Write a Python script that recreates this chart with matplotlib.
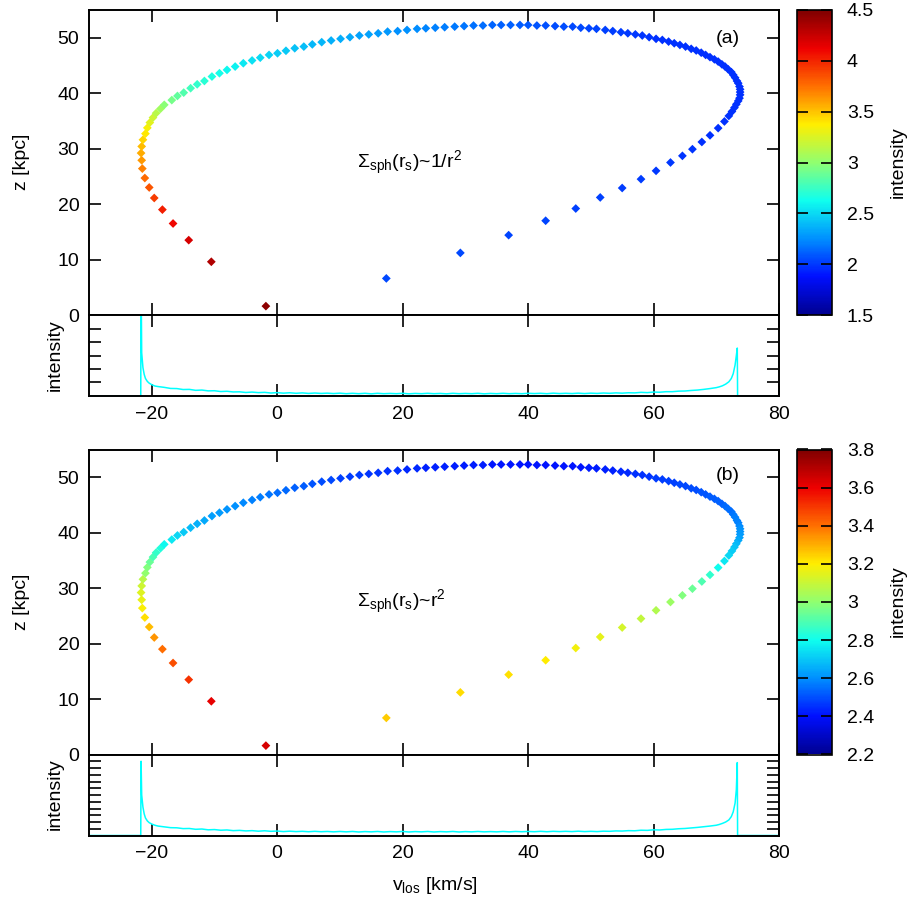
import matplotlib
matplotlib.use('Agg')
import matplotlib.pyplot as plt
from matplotlib.colors import LinearSegmentedColormap
from matplotlib.ticker import FuncFormatter

plt.rcParams['font.family'] = ['Liberation Sans', 'DejaVu Sans']
plt.rcParams['mathtext.fontset'] = 'custom'
plt.rcParams['mathtext.rm'] = 'Liberation Sans'
plt.rcParams['mathtext.it'] = 'Liberation Sans'
plt.rcParams['mathtext.bf'] = 'Liberation Sans:bold'

# ---------------- data ----------------
v_los = [-1.8, -10.5, -14.1, -16.6, -18.3, -19.6, -20.4, -21.1, -21.5, -21.6,
         -21.7, -21.6, -21.4, -21.0, -20.7, -20.3, -19.8, -19.3, -18.6, -18.0,
         -16.8, -15.9, -14.9, -13.8, -12.75, -11.6, -10.4, -9.2, -8.0, -6.7,
         -5.4, -4.0, -2.7, -1.3, 0.05, 1.4, 2.8, 4.25, 5.6, 7.1,
         8.6, 10.1, 11.6, 13.1, 14.6, 16.1, 17.6, 19.2, 20.7, 22.3,
         23.7, 25.2, 26.7, 28.3, 29.8, 31.3, 32.8, 34.3, 35.7, 37.2,
         38.7, 40.0, 41.4, 42.8, 44.3, 45.7, 47.1, 48.4, 49.7, 50.9,
         52.3, 53.5, 54.8, 55.9, 57.1, 58.2, 59.3, 60.4, 61.4, 62.4,
         63.3, 64.2, 65.1, 66.0, 66.8, 67.6, 68.3, 69.0, 69.7, 70.3,
         70.9, 71.4, 71.9, 72.4, 72.7, 73.0, 73.3, 73.5, 73.7, 73.8,
         73.8, 73.8, 73.7, 73.5, 73.2, 72.9, 72.5, 72.0, 71.3, 70.3,
         69.0, 67.7, 66.2, 64.6, 62.7, 60.4, 58.0, 55.0, 51.5, 47.6,
         42.8, 36.9, 29.2, 17.4]
z_kpc = [1.6, 9.6, 13.5, 16.5, 19.0, 21.1, 23.0, 24.7, 26.4, 27.9,
         29.2, 30.4, 31.6, 32.7, 33.75, 34.7, 35.6, 36.4, 37.2, 37.9,
         38.75, 39.5, 40.1, 40.9, 41.6, 42.2, 43.0, 43.6, 44.2, 44.8,
         45.4, 45.9, 46.4, 46.9, 47.2, 47.65, 48.1, 48.4, 48.8, 49.2,
         49.5, 49.8, 50.1, 50.4, 50.6, 50.8, 51.1, 51.2, 51.4, 51.6,
         51.7, 51.8, 51.9, 52.0, 52.1, 52.2, 52.2, 52.3, 52.3, 52.3,
         52.3, 52.3, 52.2, 52.2, 52.1, 52.0, 52.0, 51.8, 51.7, 51.6,
         51.4, 51.2, 51.0, 50.8, 50.6, 50.4, 50.1, 49.8, 49.6, 49.3,
         49.0, 48.7, 48.4, 48.0, 47.7, 47.3, 46.9, 46.5, 46.1, 45.7,
         45.2, 44.8, 44.3, 43.8, 43.3, 42.8, 42.2, 41.8, 41.2, 40.7,
         40.2, 39.7, 39.1, 38.6, 38.0, 37.4, 36.7, 35.9, 34.9, 33.7,
         32.4, 31.2, 29.9, 28.7, 27.5, 26.0, 24.5, 22.9, 21.2, 19.2,
         17.0, 14.4, 11.2, 6.6]

intensity_a = [4.45, 4.33, 4.20, 4.10, 4.03, 3.92, 3.84, 3.77, 3.70, 3.63,
               3.57, 3.52, 3.45, 3.39, 3.34, 3.27, 3.21, 3.13, 3.05, 2.98,
               2.92, 2.87, 2.82, 2.77, 2.73, 2.70, 2.67, 2.64, 2.61, 2.58,
               2.55, 2.53, 2.50, 2.48, 2.46, 2.44, 2.42, 2.41, 2.39, 2.38,
               2.36, 2.35, 2.34, 2.32, 2.31, 2.29, 2.28, 2.26, 2.25, 2.24,
               2.22, 2.21, 2.20, 2.18, 2.17, 2.16, 2.15, 2.13, 2.12, 2.11,
               2.10, 2.09, 2.08, 2.07, 2.06, 2.06, 2.05, 2.04, 2.03, 2.03,
               2.02, 2.01, 2.01, 2.00, 2.00, 1.99, 1.99, 1.98, 1.98, 1.97,
               1.97, 1.97, 1.97, 1.97, 1.97, 1.97, 1.97, 1.97, 1.97, 1.97,
               1.97, 1.97, 1.97, 1.97, 1.97, 1.97, 1.97, 1.97, 1.97, 1.97,
               1.97, 1.97, 1.97, 1.97, 1.97, 1.97, 1.97, 1.97, 1.97, 1.97,
               1.98, 1.98, 1.99, 1.99, 2.00, 2.00, 2.01, 2.01, 2.02, 2.02,
               2.03, 2.03, 2.04, 2.05]
intensity_b = [3.64, 3.61, 3.51, 3.46, 3.40, 3.34, 3.28, 3.22, 3.19, 3.16,
               3.14, 3.11, 3.07, 3.00, 2.98, 2.94, 2.89, 2.86, 2.83, 2.79,
               2.76, 2.73, 2.70, 2.68, 2.66, 2.65, 2.63, 2.62, 2.61, 2.60,
               2.59, 2.58, 2.57, 2.56, 2.55, 2.54, 2.53, 2.52, 2.51, 2.50,
               2.49, 2.48, 2.47, 2.47, 2.46, 2.46, 2.45, 2.45, 2.44, 2.44,
               2.43, 2.43, 2.43, 2.42, 2.42, 2.42, 2.42, 2.41, 2.41, 2.41,
               2.41, 2.41, 2.41, 2.41, 2.41, 2.41, 2.41, 2.41, 2.42, 2.42,
               2.43, 2.43, 2.44, 2.44, 2.45, 2.45, 2.46, 2.47, 2.47, 2.48,
               2.48, 2.49, 2.49, 2.50, 2.50, 2.51, 2.51, 2.52, 2.52, 2.53,
               2.53, 2.54, 2.55, 2.55, 2.56, 2.57, 2.58, 2.58, 2.59, 2.60,
               2.61, 2.62, 2.63, 2.65, 2.67, 2.69, 2.71, 2.73, 2.76, 2.80,
               2.85, 2.90, 2.94, 2.98, 3.02, 3.06, 3.09, 3.12, 3.15, 3.18,
               3.20, 3.22, 3.23, 3.25]

# line-of-sight velocity profile (lower panels)
v_hist = [-30.0, -21.75, -21.7, -21.6, -21.4, -21.2, -21.0, -20.7, -20.4, -20.0, -19.5, -19.0,
          -18.0, -17.0, -16.0, -15.0, -14.0, -13.0, -12.0, -11.0, -10.0, -9.0,
          -8.0, -7.0, -6.0, -5.0, -4.0, -3.0, -2.0, -1.0, 0.0,
          1.0, 2.0, 3.0, 4.0, 5.0, 6.0, 7.0, 8.0, 9.0, 10.0,
          11.0, 12.0, 13.0, 14.0, 15.0, 16.0, 17.0, 18.0, 19.0, 20.0,
          21.0, 22.0, 23.0, 24.0, 25.0, 26.0, 27.0, 28.0, 29.0, 30.0,
          31.0, 32.0, 33.0, 34.0, 35.0, 36.0, 37.0, 38.0, 39.0, 40.0,
          41.0, 42.0, 43.0, 44.0, 45.0, 46.0, 47.0, 48.0, 49.0,
          50.0, 51.0, 52.0, 53.0, 54.0, 55.0, 56.0, 57.0, 58.0, 59.0, 60.0,
          61.0, 62.0, 63.0, 64.0, 65.0, 66.0, 67.0, 68.0, 69.0, 70.0,
          70.5, 71.0, 71.5, 72.0, 72.4, 72.7, 73.0, 73.2, 73.35, 73.4, 80.0]
hist_a = [0.0, 0.0, 9.0, 3.2, 2.1, 1.6, 1.3, 1.08, 0.95, 0.84, 0.74, 0.70,
          0.64, 0.56, 0.55, 0.48, 0.49, 0.42, 0.44, 0.38, 0.39, 0.33,
          0.35, 0.30, 0.31, 0.26, 0.29, 0.25, 0.27, 0.22, 0.25,
          0.21, 0.24, 0.20, 0.23, 0.19, 0.22, 0.19, 0.21, 0.18, 0.21,
          0.17, 0.20, 0.17, 0.20, 0.16, 0.20, 0.17, 0.19, 0.17, 0.20,
          0.16, 0.19, 0.17, 0.20, 0.17, 0.19, 0.16, 0.20, 0.17, 0.19,
          0.17, 0.20, 0.16, 0.19, 0.17, 0.20, 0.17, 0.19, 0.17, 0.20,
          0.18, 0.20, 0.17, 0.21, 0.18, 0.20, 0.18, 0.21, 0.18,
          0.21, 0.19, 0.22, 0.20, 0.23, 0.21, 0.24, 0.23, 0.27, 0.25, 0.29,
          0.28, 0.32, 0.32, 0.36, 0.37, 0.41, 0.44, 0.49, 0.55, 0.62,
          0.68, 0.76, 0.88, 1.05, 1.30, 1.65, 2.30, 3.00, 3.55, 0.0, 0.0]
hist_b = [0.0, 0.0, 5.5, 3.0, 2.1, 1.6, 1.3, 1.08, 0.95, 0.85, 0.76, 0.70,
          0.64, 0.58, 0.57, 0.51, 0.52, 0.46, 0.48, 0.42, 0.44, 0.39,
          0.41, 0.36, 0.38, 0.34, 0.36, 0.32, 0.35, 0.31, 0.33,
          0.29, 0.32, 0.29, 0.31, 0.28, 0.31, 0.28, 0.30, 0.27, 0.30,
          0.27, 0.30, 0.26, 0.29, 0.27, 0.30, 0.26, 0.29, 0.27, 0.30,
          0.26, 0.29, 0.27, 0.30, 0.26, 0.29, 0.27, 0.30, 0.26, 0.29,
          0.27, 0.30, 0.27, 0.29, 0.27, 0.30, 0.27, 0.30, 0.28, 0.30,
          0.28, 0.31, 0.28, 0.31, 0.29, 0.31, 0.29, 0.32, 0.29,
          0.31, 0.29, 0.32, 0.31, 0.34, 0.33, 0.36, 0.35, 0.39, 0.38, 0.42,
          0.41, 0.45, 0.46, 0.50, 0.52, 0.56, 0.60, 0.65, 0.70, 0.76,
          0.82, 0.90, 1.00, 1.15, 1.40, 1.75, 2.40, 3.40, 5.40, 0.0, 0.0]

cb_ticks_a = [1.5, 2.0, 2.5, 3.0, 3.5, 4.0, 4.5]
cb_ticks_b = [2.2, 2.4, 2.6, 2.8, 3.0, 3.2, 3.4, 3.6, 3.8]
x_ticks = [-20, 0, 20, 40, 60, 80]
z_ticks = [0, 10, 20, 30, 40, 50]

# gnuplot-style jet palette
jet_g = LinearSegmentedColormap.from_list(
    'jet_g', ['#000090', '#000fff', '#0090ff', '#0fffee', '#90ff70',
              '#ffee00', '#ff7000', '#ee0000', '#7f0000'])

W, H = 909.0, 900.0
FS = 14
fig = plt.figure(figsize=(W / 100, H / 100), dpi=100)


def rect(x0, y0, x1, y1):
    return [x0 / W, 1 - y1 / H, (x1 - x0) / W, (y1 - y0) / H]


def gfmt(v, pos):
    return '%g' % round(v, 3)


def panel(top, intens, vmin, vmax, cticks, hvals, hstep, letter, label):
    bot = top + 305.0
    hbot = bot + 81.0
    ax = fig.add_axes(rect(89, top, 779, bot))
    axh = fig.add_axes(rect(89, bot, 779, hbot))
    cax = fig.add_axes(rect(796.7, top, 831.7, bot))

    sc = ax.scatter(v_los, z_kpc, c=intens, cmap=jet_g, vmin=vmin, vmax=vmax,
                    marker='D', s=20, linewidths=0, zorder=3)
    ax.set_xlim(-30, 80)
    ax.set_ylim(0, 55)
    ax.set_xticks(x_ticks)
    ax.set_yticks(z_ticks)
    ax.tick_params(direction='in', length=8.4, width=1.2, top=True, right=True,
                   labelbottom=False, labelsize=FS, pad=7)
    for s in ax.spines.values():
        s.set_linewidth(1.4)
    ax.text(71.9, 49.8 if letter == '(a)' else 50.3, letter, ha='center',
            va='center', fontsize=FS)
    ax.text(12.8, 27.5, label, ha='left', va='center', fontsize=FS)

    axh.plot(v_hist, hvals, color='#00ffff', lw=1.1, zorder=2)
    axh.set_xlim(-30, 80)
    axh.set_ylim(0, 6)
    yt = []
    y = hstep
    while y < 6 - 1e-6:
        yt.append(y)
        y += hstep
    axh.set_yticks(yt)
    axh.set_xticks(x_ticks)
    axh.tick_params(axis='y', direction='in', length=8.4, width=1.2,
                    left=True, right=True, labelleft=False)
    axh.tick_params(axis='x', direction='in', length=8.4, width=1.2,
                    top=True, bottom=True, labelsize=FS, pad=7)
    for s in axh.spines.values():
        s.set_linewidth(1.4)

    cb = fig.colorbar(sc, cax=cax)
    cb.set_ticks(cticks)
    cb.ax.yaxis.set_major_formatter(FuncFormatter(gfmt))
    cb.ax.tick_params(direction='in', length=7.7, width=1.2, left=True,
                      right=True, labelsize=FS, pad=11)
    cb.outline.set_linewidth(1.2)
    cb.ax.minorticks_off()

    yc = 1 - (top + 152) / H
    fig.text(22 / W, yc, 'z [kpc]', rotation=90, ha='center', va='center',
             fontsize=FS)
    fig.text(55 / W, 1 - (bot + 40) / H, 'intensity', rotation=90,
             ha='center', va='center', fontsize=FS)
    fig.text(898 / W, yc, 'intensity', rotation=90, ha='center',
             va='center', fontsize=FS)


panel(10.0, intensity_a, 1.5, 4.5, cb_ticks_a, hist_a, 1.0, '(a)',
      r'$\Sigma_{\rm sph}(\rm r_s)$~1/r$^2$')
panel(449.5, intensity_b, 2.2, 3.8, cb_ticks_b, hist_b, 0.5, '(b)',
      r'$\Sigma_{\rm sph}(\rm r_s)$~r$^2$')

fig.text(435 / W, 1 - 885 / H, r'v$_{\rm los}$ [km/s]', ha='center',
         va='center', fontsize=FS)

fig.savefig('out.png', dpi=100)
